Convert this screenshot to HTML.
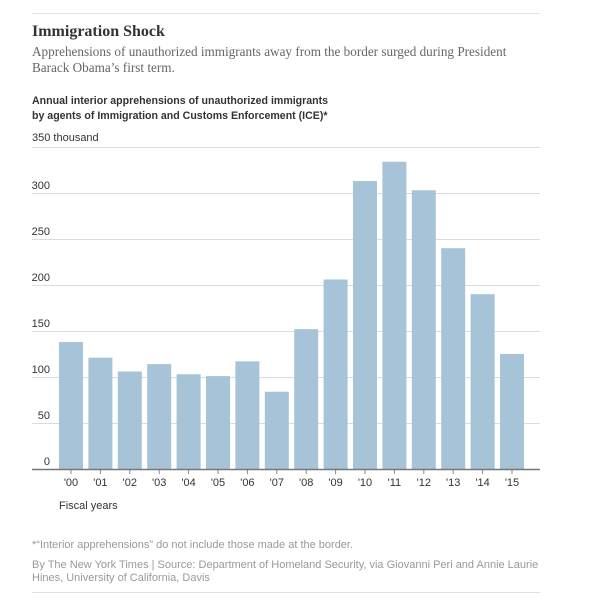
<!DOCTYPE html>
<html><head><meta charset="utf-8"><style>
body{margin:0;background:#fff;width:600px;height:598px;position:relative;overflow:hidden;font-family:"Liberation Sans",sans-serif}
.t{position:absolute;white-space:nowrap}
</style></head><body>
<div style="position:absolute;left:32px;top:13px;width:508px;height:1px;background:#e2e2e2"></div>
<div class="t" style="left:32px;top:23px;font:bold 16px 'Liberation Serif',serif;color:#333">Immigration Shock</div>
<div class="t" style="left:32px;top:44px;font:13.2px/16px 'Liberation Serif',serif;color:#666">Apprehensions of unauthorized immigrants away from the border surged during President<br>Barack Obama’s first term.</div>
<div class="t" style="left:32px;top:94px;font:bold 10.6px/15px 'Liberation Sans',sans-serif;color:#333">Annual interior apprehensions of unauthorized immigrants<br>by agents of Immigration and Customs Enforcement (ICE)*</div>
<svg id="c" width="600" height="598" style="position:absolute;left:0;top:0"></svg>
<div class="t" style="left:59px;top:500px;font-size:11px;color:#333">Fiscal years</div>
<div class="t" style="left:32px;top:539px;font-size:11px;color:#999">*“Interior apprehensions” do not include those made at the border.</div>
<div class="t" style="left:32px;top:559px;font:11px/13px 'Liberation Sans',sans-serif;color:#999">By The New York Times | Source: Department of Homeland Security, via Giovanni Peri and Annie Laurie<br>Hines, University of California, Davis</div>
<div style="position:absolute;left:32px;top:592px;width:508px;height:1px;background:#e2e2e2"></div>
<script>
const categories=["'00","'01","'02","'03","'04","'05","'06","'07","'08","'09","'10","'11","'12","'13","'14","'15"];
const values=[138,121,106,114,103,101,117,84,152,206,313,334,303,240,190,125];
const yTicks=[0,50,100,150,200,250,300,350];
const yTickLabels=["0","50","100","150","200","250","300","350 thousand"];
const NS="http://www.w3.org/2000/svg",svg=document.getElementById('c');
const y0=469,ky=(469-147)/350;
const y=v=>y0-v*ky;
const x=i=>59+i*29.4;
function mk(t,a){const e=document.createElementNS(NS,t);for(const k in a)e.setAttribute(k,a[k]);svg.appendChild(e);return e;}
yTicks.forEach((v,i)=>{
 if(v>0){const l=mk('line',{x1:32,x2:540,y1:y(v)+0.5,y2:y(v)+0.5,stroke:'#d5dde6','stroke-width':1});
 
 }
 const t=mk('text',{x:i==7?32:50,y:y(v)-(i==7?6:4),'font-size':11,fill:'#333','text-anchor':i==7?'start':'end','font-family':'Liberation Sans, sans-serif'});
 t.textContent=yTickLabels[i];
 
 
});
values.forEach((v,i)=>{
 const r=mk('rect',{x:x(i),y:y(v),width:24,height:y0-y(v),fill:'#a6c3d8'});
 
 
 const tk=mk('line',{x1:x(i)+12,x2:x(i)+12,y1:y0,y2:y0+5,stroke:'#888'});
 
 
 const t=mk('text',{x:x(i)+12,y:486,'font-size':11,fill:'#333','text-anchor':'middle','font-family':'Liberation Sans, sans-serif'});
 t.textContent=categories[i];
 
 
});
const ax=mk('line',{x1:32,x2:540,y1:y0+0.5,y2:y0+0.5,stroke:'#777','stroke-width':1.5});


</script>
</body></html>
